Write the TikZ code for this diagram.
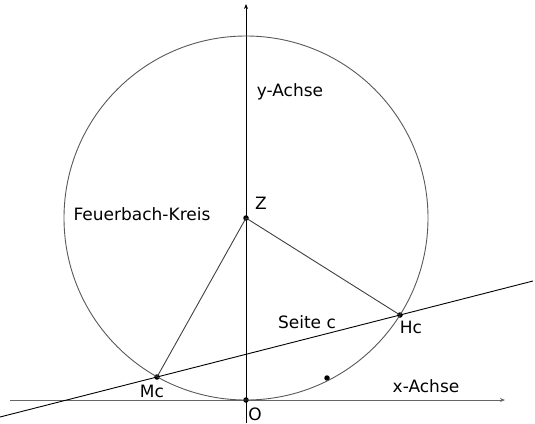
\documentclass[tikz,border=0pt]{standalone}
\usepackage{fontspec}
\setmainfont{DejaVu Sans}
\usetikzlibrary{arrows.meta}
\tikzset{
  achse/.style={line width=0.9pt, draw=black, -{Stealth[length=5pt, width=4pt]}},
  xachse/.style={line width=0.9pt, draw=black!60, -{Stealth[length=5pt, width=4pt]}},
  kreis/.style={line width=0.9pt, draw=black!65},
  strecke/.style={line width=0.9pt, draw=black!75},
  seite/.style={line width=0.9pt, draw=black},
  punkt/.style={circle, fill=black, inner sep=0pt, minimum size=5.5pt},
  beschr/.style={font=\fontsize{17}{19}\selectfont, inner sep=0pt}
}
\begin{document}
\begin{tikzpicture}[x=1pt, y=-1pt]
  \useasboundingbox (0,0) rectangle (535,423);

  % achsen
  \coordinate (xl) at (10,400);
  \coordinate (xr) at (505,400);
  \coordinate (yu) at (246,423);
  \coordinate (yo) at (246,4);
  \draw[xachse] (xl) -- (xr);
  \draw[achse] (yu) -- (yo);

  % kreis und punkte
  \node[punkt] (Z) at (246,218) {};
  \node[punkt] (O) at (246,400) {};
  \node[punkt] (Mc) at (157,377) {};
  \node[punkt] (Hc) at (400,315) {};
  \node[punkt] (P) at (327,378) {};
  \draw[kreis] (Z.center) circle[radius=182];
  \draw[strecke] (Z.center) -- (Mc.center);
  \draw[strecke] (Z.center) -- (Hc.center);

  % seite c
  \coordinate (cl) at (0,417);
  \coordinate (cr) at (533,281);
  \draw[seite] (cl) -- (Mc.center) -- (Hc.center) -- (cr);

  % beschriftungen
  \node[beschr] (ly) at (290,92) {y-Achse};
  \node[beschr] (lz) at (261,203) {Z};
  \node[beschr] (lk) at (142,214) {Feuerbach-Kreis};
  \node[beschr] (ls) at (307,322) {Seite c};
  \node[beschr] (lh) at (411,327) {Hc};
  \node[beschr] (lm) at (152,391) {Mc};
  \node[beschr] (lo) at (255,414) {O};
  \node[beschr] (lx) at (426,386) {x-Achse};
\end{tikzpicture}
\end{document}
